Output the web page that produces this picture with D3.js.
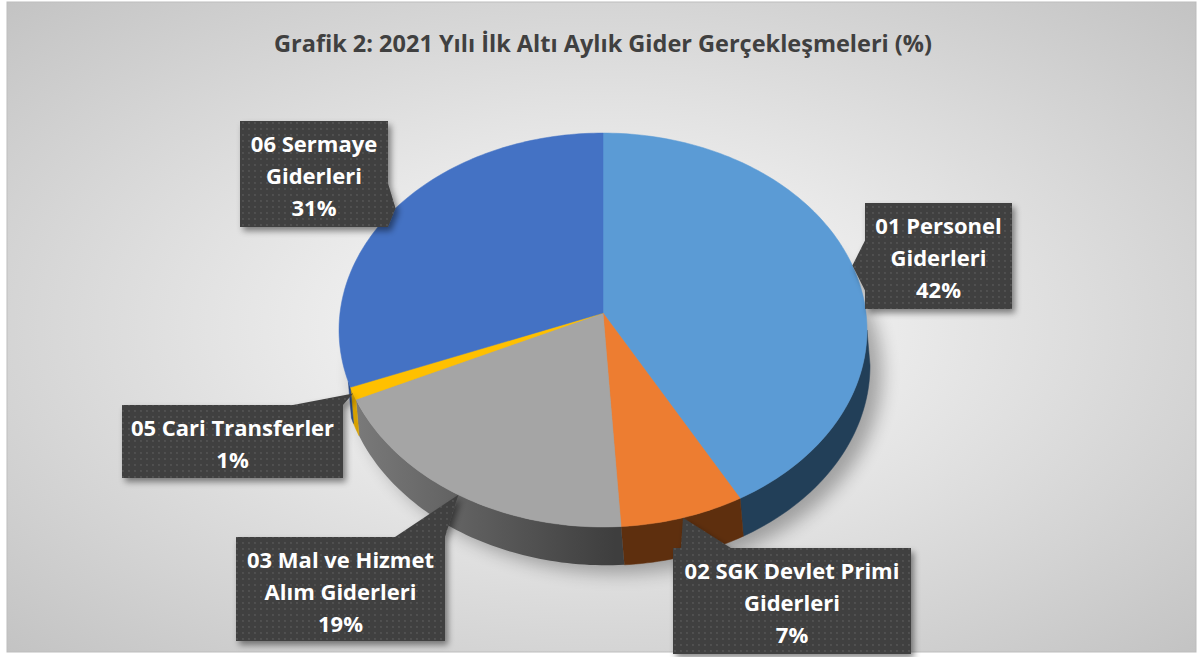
<!DOCTYPE html>
<html>
<head>
<meta charset="utf-8">
<script src="https://cdn.jsdelivr.net/npm/d3@7"></script>
<style>
  body { margin: 0; background: #fff; }
  svg { display: block; font-family: "Open Sans", Lato, sans-serif; }
</style>
</head>
<body>
<div id="svgContainer"></div>
<script>
// chart data
var title = "Grafik 2: 2021 Yılı İlk Altı Aylık Gider Gerçekleşmeleri (%)";
var categories = ["01 Personel Giderleri", "02 SGK Devlet Primi Giderleri",
    "03 Mal ve Hizmet Alım Giderleri", "05 Cari Transferler", "06 Sermaye Giderleri"];
var labelLines = [["01 Personel", "Giderleri"], ["02 SGK Devlet Primi", "Giderleri"],
    ["03 Mal ve Hizmet", "Alım Giderleri"], ["05 Cari Transferler"], ["06 Sermaye", "Giderleri"]];
var values = [42, 7, 19, 1, 31];

// styles
var topColors = ["#5b9bd5", "#ed7d31", "#a5a5a5", "#ffc000", "#4472c4"];
var sideColors = ["#223f58", "#5e2f0e", "url(#greySide)", "#d6a000", "#2a4a86"];

// label box layout (x, y, w, h)
var labelBoxes = [
    [865, 203, 147, 106],
    [673, 548, 238, 106],
    [236, 537, 209, 104],
    [122, 405, 221, 73],
    [240, 121, 148, 106]
];

var width = 1198, height = 657;
var cx = 603, cy = 313, rx = 263, ry = 195.5, k = 0.0863, depth = 35, shiftX = 3;

var svg = d3.select("#svgContainer")
    .append("svg")
    .attr("width", width)
    .attr("height", height);

var defs = svg.append("defs");

var bg = defs.append("radialGradient").attr("id", "bg")
    .attr("cx", "50%").attr("cy", "50%").attr("r", "72%");
bg.append("stop").attr("offset", "0%").attr("stop-color", "#ffffff");
bg.append("stop").attr("offset", "100%").attr("stop-color", "#c2c2c2");

var gs = defs.append("linearGradient").attr("id", "greySide")
    .attr("gradientUnits", "userSpaceOnUse")
    .attr("x1", 345).attr("y1", 0).attr("x2", 615).attr("y2", 0);
gs.append("stop").attr("offset", "0%").attr("stop-color", "#7c7c7c");
gs.append("stop").attr("offset", "100%").attr("stop-color", "#3e3e3e");

var dots = defs.append("pattern").attr("id", "dots")
    .attr("width", 6).attr("height", 6)
    .attr("patternUnits", "userSpaceOnUse");
dots.append("rect").attr("width", 6).attr("height", 6).attr("fill", "#404040");
dots.append("circle").attr("cx", 3).attr("cy", 3).attr("r", 0.9).attr("fill", "#585858");

var blur = defs.append("filter").attr("id", "pieShadow")
    .attr("x", "-20%").attr("y", "-20%").attr("width", "140%").attr("height", "140%");
blur.append("feGaussianBlur").attr("stdDeviation", 9);

var drop = defs.append("filter").attr("id", "boxShadow")
    .attr("x", "-20%").attr("y", "-20%").attr("width", "140%").attr("height", "140%");
drop.append("feDropShadow").attr("dx", 3).attr("dy", 4)
    .attr("stdDeviation", 3).attr("flood-color", "#000").attr("flood-opacity", 0.45);

// background
svg.append("rect").attr("x", 7).attr("y", 2).attr("width", 1189).attr("height", 650)
    .attr("fill", "url(#bg)").attr("stroke", "#bdbdbd").attr("stroke-width", 1);

svg.append("text")
    .attr("x", 603).attr("y", 52)
    .attr("text-anchor", "middle")
    .attr("font-size", 23.5).attr("font-weight", "bold")
    .attr("fill", "#404040")
    .text(title);

// perspective projection of a point on the pie rim
function proj(a, r, dz) {
    var u = Math.sin(a) * r, v = -Math.cos(a) * r;
    var s = 1 / (1 - k * v);
    return [cx + rx * u * s + (dz ? shiftX : 0) * s, cy + ry * v * s + dz * s];
}

function arcPoints(a0, a1, dz) {
    var n = Math.max(2, Math.ceil((a1 - a0) / 0.02));
    var pts = [];
    for (var i = 0; i <= n; i++) pts.push(proj(a0 + (a1 - a0) * i / n, 1, dz));
    return pts;
}

var pie = d3.pie().sort(null).value(function(d) { return d; });
var arcs = pie(values);
var total = d3.sum(values);
var fmt = d3.format(".0%");
var line = d3.line();

// soft shadow under the pie
var outline = arcPoints(0, 2 * Math.PI, depth);
svg.append("path")
    .attr("d", line(outline) + "Z")
    .attr("transform", "translate(12,8)")
    .attr("fill", "#000").attr("opacity", 0.3)
    .attr("filter", "url(#pieShadow)");

// outer walls, only the part that faces the viewer
var wallStart = Math.acos(-k), wallEnd = 250 * Math.PI / 180;
var walls = svg.append("g");
arcs.forEach(function(d, i) {
    var s = Math.max(d.startAngle, wallStart);
    var e = Math.min(d.endAngle, wallEnd);
    if (e <= s) return;
    var pts = arcPoints(s, e, 0).concat(arcPoints(s, e, depth).reverse());
    walls.append("path")
        .attr("d", line(pts) + "Z")
        .attr("fill", sideColors[i])
        .attr("stroke", sideColors[i] === "url(#greySide)" ? "none" : sideColors[i])
        .attr("stroke-width", 0.5);
});

// top faces
var tops = svg.append("g");
arcs.forEach(function(d, i) {
    var pts = [[cx, cy]].concat(arcPoints(d.startAngle, d.endAngle, 0));
    tops.append("path")
        .attr("d", line(pts) + "Z")
        .attr("fill", topColors[i])
        .attr("stroke", topColors[i])
        .attr("stroke-width", 0.5);
});

// callout labels
var labels = svg.append("g");
arcs.forEach(function(d, i) {
    var b = labelBoxes[i];
    var x = b[0], y = b[1], w = b[2], h = b[3];
    var tip = proj((d.startAngle + d.endAngle) / 2, 1, 0);
    var half = 25, base;
    if (tip[1] < y) {
        var qx = Math.max(x, Math.min(x + w, tip[0]));
        var bx = Math.max(x, Math.min(x + w - 2 * half, qx - half - half * (2 * (qx - x) / w - 1)));
        base = [[bx, y], [bx + 2 * half, y]];
    } else if (tip[1] > y + h) {
        var qx2 = Math.max(x, Math.min(x + w, tip[0]));
        base = [[Math.max(x, qx2 - half), y + h], [Math.min(x + w, qx2 + half), y + h]];
    } else {
        var ex = tip[0] < x ? x : x + w;
        var qy = Math.max(y, Math.min(y + h, tip[1]));
        base = [[ex, Math.max(y, qy - half)], [ex, Math.min(y + h, qy + half)]];
    }
    var g = labels.append("g").attr("filter", "url(#boxShadow)");
    g.append("rect").attr("x", x).attr("y", y).attr("width", w).attr("height", h)
        .attr("fill", "url(#dots)");
    g.append("path").attr("d", line([base[0], tip, base[1]]) + "Z")
        .attr("fill", "url(#dots)");

    var lines = labelLines[i].concat([fmt(d.data / total)]);
    var t = labels.append("text")
        .attr("text-anchor", "middle")
        .attr("font-size", 22).attr("font-weight", "bold")
        .attr("fill", "#ffffff");
    lines.forEach(function(l, j) {
        t.append("tspan").attr("x", x + w / 2).attr("y", y + 31 + j * 32).text(l);
    });
});
</script>
</body>
</html>
